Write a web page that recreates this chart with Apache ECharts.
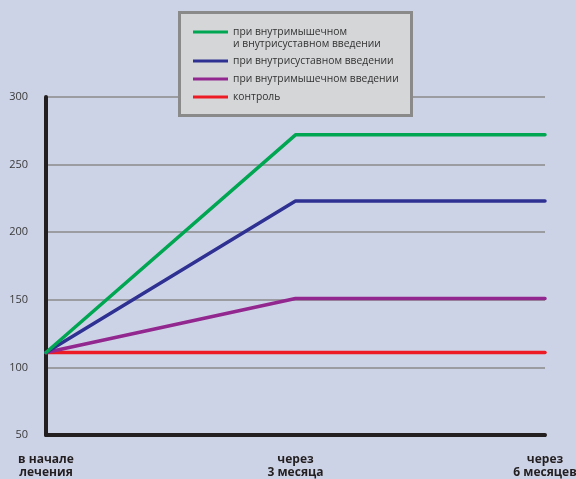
<!DOCTYPE html>
<html>
<head>
<meta charset="utf-8">
<script src="https://cdn.jsdelivr.net/npm/echarts@6/dist/echarts.min.js"></script>
<style>
html,body{margin:0;padding:0;background:#cdd3e7;}
#chart{width:576px;height:479px;}
</style>
</head>
<body>
<div id="chart"></div>
<script>
const categories = ['в начале\nлечения', 'через\n3 месяца', 'через\n6 месяцев'];
const seriesNames = [
  'при внутримышечном\nи внутрисуставном введении',
  'при внутрисуставном введении',
  'при внутримышечном введении',
  'контроль'
];
const greenValues = [111, 272, 272];
const blueValues = [111, 223, 223];
const purpleValues = [111, 151, 151];
const redValues = [111, 111, 111];
const yTicks = [50, 100, 150, 200, 250, 300];

const colors = ['#00a651', '#2e3192', '#92278f', '#ed1c24'];
const valueSets = [greenValues, blueValues, purpleValues, redValues];
const FONT = '"Open Sans", "Noto Sans", sans-serif';

const chart = echarts.init(document.getElementById('chart'), null, {renderer: 'canvas'});

const series = seriesNames.map((name, i) => ({
  name: name,
  type: 'line',
  data: valueSets[i],
  showSymbol: false,
  symbol: 'none',
  z: 3 + (3 - i),
  lineStyle: {color: colors[i], width: 3.5, cap: 'round', join: 'round'},
  itemStyle: {color: colors[i]},
  emphasis: {disabled: true},
  animation: false
}));

const option = {
  backgroundColor: '#cdd3e7',
  animation: false,
  textStyle: {fontFamily: FONT},
  grid: {left: 46, right: 31, top: 97, bottom: 44, containLabel: false, outerBoundsMode: 'none'},
  graphic: [{
    type: 'rect',
    left: 178, top: 11,
    shape: {width: 232, height: 103},
    style: {fill: '#d5d6d8', stroke: '#8a8a8a', lineWidth: 3},
    z: 20
  }],
  legend: [{
    data: [seriesNames[0]],
    left: 193, top: 26,
    padding: 0,
    itemWidth: 35, itemHeight: 24,
    icon: 'path://M0,4.5H35V7.5H0Z M0,0H0.01V0.01H0Z M0,23.99H0.01V24H0Z',
    selectedMode: false,
    z: 30,
    textStyle: {fontFamily: FONT, fontSize: 10.3, lineHeight: 12, color: '#333333'}
  }, {
    data: seriesNames.slice(1),
    orient: 'vertical',
    left: 193, top: 55,
    padding: 0,
    itemWidth: 35, itemHeight: 3, itemGap: 6,
    icon: 'rect',
    selectedMode: false,
    z: 30,
    textStyle: {fontFamily: FONT, fontSize: 10.3, lineHeight: 12, color: '#333333'}
  }],
  xAxis: {
    type: 'category',
    data: categories,
    boundaryGap: false,
    axisLine: {show: true, lineStyle: {color: '#231f20', width: 4}},
    axisTick: {show: true, length: 2, lineStyle: {color: '#231f20', width: 2}},
    splitLine: {show: false},
    axisLabel: {
      interval: 0, margin: 18,
      fontFamily: FONT, fontSize: 12, fontWeight: 'bold', lineHeight: 13,
      color: '#231f20'
    }
  },
  yAxis: {
    type: 'value',
    min: yTicks[0], max: yTicks[yTicks.length - 1], interval: 50,
    axisLine: {show: true, lineStyle: {color: '#231f20', width: 4}},
    axisTick: {show: false},
    splitLine: {show: true, lineStyle: {color: '#8a8a8a', width: 1.5}},
    axisLabel: {margin: 18, fontFamily: FONT, fontSize: 11, color: '#3a3a3a'}
  },
  series: series
};
chart.setOption(option);
</script>
</body>
</html>
